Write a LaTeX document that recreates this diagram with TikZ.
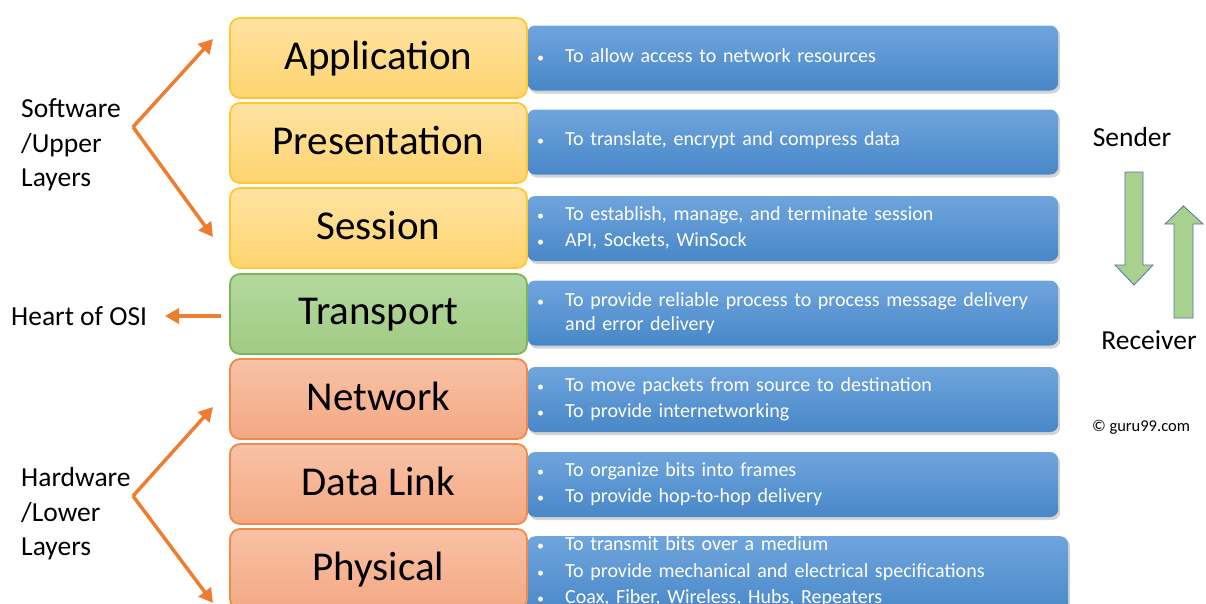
\documentclass[tikz,border=0pt]{standalone}
\usepackage{fontspec}
\setmainfont{Carlito}
\usetikzlibrary{shadows,arrows.meta}
\definecolor{ylwT}{HTML}{FFE3A3}
\definecolor{ylwB}{HTML}{FFD46E}
\definecolor{ylwD}{HTML}{FFC832}
\definecolor{grnT}{HTML}{B4D89E}
\definecolor{grnB}{HTML}{A0CB83}
\definecolor{grnD}{HTML}{7DB558}
\definecolor{salT}{HTML}{F8C2A6}
\definecolor{salB}{HTML}{F4A884}
\definecolor{salD}{HTML}{F08A4B}
\definecolor{bluT}{HTML}{6FA5DD}
\definecolor{bluB}{HTML}{4887C8}
\definecolor{orgA}{HTML}{ED7D31}
\definecolor{grnA}{HTML}{A9D18E}
\definecolor{grnO}{HTML}{4F72B0}
\newcommand{\bul}[1]{\makebox[28pt][l]{{\fontsize{14}{14}\selectfont\textbullet}}#1}
\begin{document}
\begin{tikzpicture}[x=1pt,y=-1pt,
  layer/.style={rounded corners=10pt, line width=1.8pt, minimum width=297pt, minimum height=80pt,
    inner sep=0pt, font=\fontsize{41}{44}\selectfont, text depth=6pt},
  yl/.style={layer, draw=ylwD, top color=ylwT, bottom color=ylwB},
  gl/.style={layer, draw=grnD, top color=grnT, bottom color=grnB},
  sl/.style={layer, draw=salD, top color=salT, bottom color=salB},
  descbox/.style={rounded corners=8pt, top color=bluT, bottom color=bluB,
    anchor=west, minimum width=531pt, minimum height=65pt, inner sep=0pt,
    drop shadow={opacity=0.35, shadow xshift=2pt, shadow yshift=-3pt}},
  desctext/.style={text=white, anchor=west, text width=511pt, inner sep=0pt,
    align=left, font=\fontsize{20}{26}\selectfont},
  side/.style={font=\fontsize{27.5}{34.5}\selectfont, align=left, anchor=west, inner sep=0pt},
  oarr/.style={draw=orgA, line width=3.5pt, -{Triangle[length=14pt,width=15pt]}},
  garr/.style={fill=grnA, draw=grnO, line width=0.8pt}
]
\clip (0,0) rectangle (1206,603);
\useasboundingbox (0,0) rectangle (1206,603);

% description boxes
\node[descbox] (appd) at (527,58) {};
\node[descbox] (presd) at (527,142) {};
\node[descbox] (sessd) at (527,228.5) {};
\node[descbox] (transd) at (527,313) {};
\node[descbox] (netd) at (527,399.5) {};
\node[descbox] (dld) at (527,484.5) {};
\node[descbox, anchor=north west, minimum width=541pt, minimum height=80pt] (physd) at (527,536) {};

\node[desctext] (appt) at (537,56) {\bul{To allow access to network resources}};
\node[desctext] (prest) at (537,140) {\bul{To translate, encrypt and compress data}};
\node[desctext] (sesst) at (537,228) {\bul{To establish, manage, and terminate session}\\\bul{API, Sockets, WinSock}};
\node[desctext] (transt) at (537,313) {\bul{To provide reliable process to process message delivery}\\[-2pt]\hspace*{28pt}and error delivery};
\node[desctext] (nett) at (537,399) {\bul{To move packets from source to destination}\\\bul{To provide internetworking}};
\node[desctext] (dlt) at (537,484) {\bul{To organize bits into frames}\\\bul{To provide hop-to-hop delivery}};
\node[desctext, anchor=north west, text height=13pt] (physt) at (537,537) {\bul{To transmit bits over a medium}\\[1pt]\bul{To provide mechanical and electrical specifications}\\\bul{Coax, Fiber, Wireless, Hubs, Repeaters}};

% layer boxes
\node[yl] (app) at (378.5,58) {Application};
\node[yl] (pres) at (378.5,143) {Presentation};
\node[yl] (sess) at (378.5,228) {Session};
\node[gl] (trans) at (378.5,314) {Transport};
\node[sl] (net) at (378.5,399) {Network};
\node[sl] (dl) at (378.5,484) {Data Link};
\node[sl] (phys) at (378.5,569) {Physical};

% left labels
\node[side] (sw) at (21,145) {Software\\/Upper\\Layers};
\node[side] (hw) at (21,514) {Hardware\\/Lower\\Layers};
\node[side] (heart) at (11,316) {Heart of OSI};

\coordinate (swv) at (133,127);
\coordinate (swt) at (213,39);
\coordinate (swb) at (213,237);
\coordinate (hwv) at (133,496);
\coordinate (hwt) at (213,407);
\coordinate (hwb) at (213,603);
\coordinate (heartS) at (221,316);
\coordinate (heartE) at (165,316);
\draw[oarr] (swv) -- (swt);
\draw[oarr] (swv) -- (swb);
\draw[oarr] (hwv) -- (hwt);
\draw[oarr] (hwv) -- (hwb);
\draw[oarr] (heartS) -- (heartE);

% sender / receiver
\node[font=\fontsize{27.5}{30}\selectfont] (send) at (1132,137) {Sender};
\node[font=\fontsize{27.5}{30}\selectfont] (recv) at (1149,340) {Receiver};
\node[font=\fontsize{16.5}{18}\selectfont] (copy) at (1141,427) {© guru99.com};
\draw[garr] (1125,172) -- (1143,172) -- (1143,265) -- (1153,265) -- (1134,285) -- (1115,265) -- (1125,265) -- cycle;
\draw[garr] (1174,318) -- (1193,318) -- (1193,224) -- (1203,224) -- (1183.5,206) -- (1165,224) -- (1174,224) -- cycle;
\end{tikzpicture}
\end{document}
